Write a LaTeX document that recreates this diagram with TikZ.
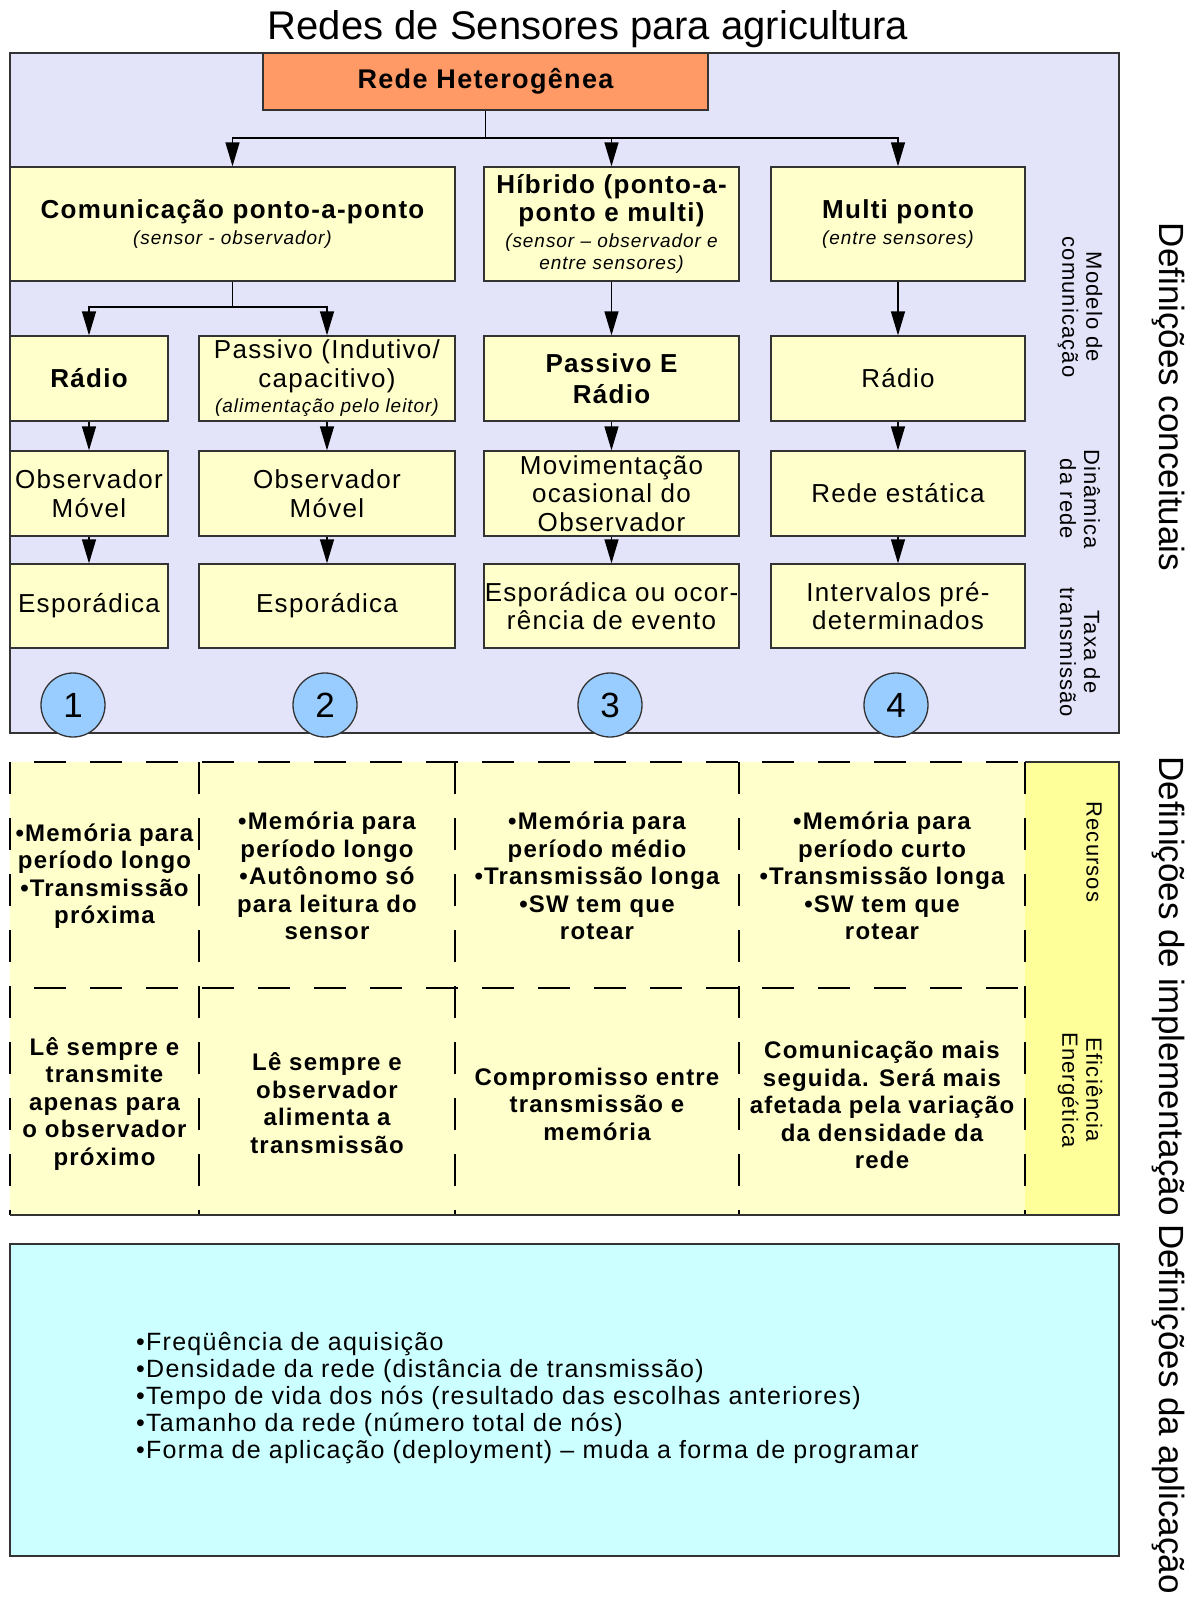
\documentclass[tikz,border=0pt]{standalone}
\usepackage{fontspec}
\setmainfont{Liberation Sans}[LetterSpace=5]
\newfontfamily\plainsans{Liberation Sans}
\usetikzlibrary{arrows.meta}
\definecolor{panel}{HTML}{E3E3FA}
\definecolor{boxy}{HTML}{FFFFCC}
\definecolor{orng}{HTML}{FF9966}
\definecolor{circb}{HTML}{99CCFF}
\definecolor{ycol}{HTML}{FFFF99}
\definecolor{cyanb}{HTML}{CCFFFF}
\definecolor{edge}{HTML}{333333}
\newcommand\fs[2]{\fontsize{#1}{#2}\selectfont}
\begin{document}
\begin{tikzpicture}[x=1pt,y=-1pt,
  box/.style={draw=edge, fill=boxy, line width=1.3pt, inner sep=0pt, align=center, font=\fs{26}{28.5}},
  bbox/.style={box, font=\bfseries\fs{26}{31}},
  ln/.style={draw=black, line width=1.3pt},
  arr/.style={ln, -{Triangle[length=24pt,width=14pt]}},
  circ/.style={circle, draw=edge, fill=circb, line width=1.3pt, minimum size=64pt, inner sep=0pt, font=\plainsans\fs{35}{37}},
  rot/.style={rotate=-90, align=center, font=\fs{22}{24}},
  big/.style={rotate=-90, inner sep=0pt, font=\plainsans\fs{35}{38}},
  mid/.style={align=center, font=\bfseries\fs{24}{27.5}},
  dsh/.style={line width=1.3pt, draw=black, dash pattern=on 32pt off 24pt},
  hdsh/.style={dsh, dash phase=32pt},
]
\useasboundingbox (0,0) rectangle (1193,1606);
\fill[white] (0,0) rectangle (1193,1606);

% title
\node (title) at (588,29) {\plainsans\fs{40}{44}Redes de Sensores para agricultura};

% top panel
\filldraw[fill=panel, draw=edge, line width=1.4pt] (10,53) rectangle (1119,733);

\node[bbox, fill=orng, minimum width=445pt, minimum height=57pt, font=\bfseries\fs{27}{30}] (rede) at (485.5,81.5) {Rede Heterogênea};

% row 1
\node[box, minimum width=445pt, minimum height=114pt] (com) at (232.5,224)
  {{\bfseries\fs{26}{30}\rule{0pt}{6pt}Comunicação ponto-a-ponto}\\[-2pt]{\itshape\fs{19}{22}(sensor - observador)}};
\node[box, minimum width=255pt, minimum height=114pt] (hib) at (611.5,224)
  {{\bfseries\fs{26}{31}Híbrido (ponto-a-}\\{\bfseries\fs{26}{31}ponto e multi)}\\[-3pt]{\itshape\fs{19}{22}(sensor – observador e}\\[-6pt]{\itshape\fs{19}{22}entre sensores)}};
\node[box, minimum width=254pt, minimum height=114pt] (mul) at (898,224)
  {{\bfseries\fs{26}{30}Multi ponto}\\[-2pt]{\itshape\fs{19}{22}(entre sensores)}};

% row 2
\node[bbox, minimum width=158pt, minimum height=85pt] (r1) at (89,378.5) {Rádio};
\node[box, minimum width=256pt, minimum height=85pt] (r2) at (327,378.5)
  {Passivo (Indutivo/\\capacitivo)\\[-3pt]{\itshape\fs{19}{22}(alimentação pelo leitor)}};
\node[bbox, minimum width=255pt, minimum height=85pt] (r3) at (611.5,378.5) {Passivo E\\Rádio};
\node[box, minimum width=254pt, minimum height=85pt] (r4) at (898,378.5) {Rádio};

% row 3
\node[box, minimum width=158pt, minimum height=85pt] (d1) at (89,493.5) {Observador\\Móvel};
\node[box, minimum width=256pt, minimum height=85pt] (d2) at (327,493.5) {Observador\\Móvel};
\node[box, minimum width=255pt, minimum height=85pt] (d3) at (611.5,493.5) {Movimentação\\ocasional do\\Observador};
\node[box, minimum width=254pt, minimum height=85pt] (d4) at (898,493.5) {Rede estática};

% row 4
\node[box, minimum width=158pt, minimum height=84pt] (t1) at (89,606) {Esporádica};
\node[box, minimum width=256pt, minimum height=84pt] (t2) at (327,606) {Esporádica};
\node[box, minimum width=255pt, minimum height=84pt] (t3) at (611.5,606) {Esporádica ou ocor-\\rência de evento};
\node[box, minimum width=254pt, minimum height=84pt] (t4) at (898,606) {Intervalos pré-\\determinados};

% connectors
\coordinate (j1) at (485.5,138);
\draw[ln] (rede.south) -- (j1);
\draw[arr] (j1) -| (com.north);
\draw[arr] (j1) -| (hib.north);
\draw[arr] (j1) -| (mul.north);
\coordinate (j2) at (232.5,307);
\draw[ln] (com.south) -- (j2);
\draw[arr] (j2) -| (r1.north);
\draw[arr] (j2) -| (r2.north);
\draw[arr] (hib.south) -- (r3.north);
\draw[arr] (mul.south) -- (r4.north);
\foreach \c in {1,2,3,4}{
  \draw[arr] (r\c.south) -- (d\c.north);
  \draw[arr] (d\c.south) -- (t\c.north);
}

% circles
\node[circ] (c1) at (73,705) {1};
\node[circ] (c2) at (325,705) {2};
\node[circ] (c3) at (610,705) {3};
\node[circ] (c4) at (896,705) {4};

% side labels (top)
\node[rot] (lmod) at (1080,307) {Modelo de\\comunicação};
\node[rot] (ldin) at (1080,499) {Dinâmica\\da rede};
\node[rot] (ltax) at (1080,652) {Taxa de\\transmissão};

% middle section
\fill[boxy] (10,762) rectangle (1025,1215);
\filldraw[fill=ycol, draw=edge, line width=1.4pt] (1025,762) -- (1119,762) -- (1119,1215) -- (1025,1215);
\draw[hdsh] (10,762) -- (1025,762);
\draw[hdsh] (10,988) -- (1025,988);
\foreach \x in {10,199,455,739,1025}{
  \draw[dsh] (\x,762) -- (\x,1215);
}
\draw[draw=edge, line width=1.6pt] (10,1215) -- (1119,1215);

\node[mid] (m11) at (104.5,876) {•Memória para\\período longo\\•Transmissão\\próxima};
\node[mid] (m12) at (327,876) {•Memória para\\período longo\\•Autônomo só\\para leitura do\\sensor};
\node[mid] (m13) at (597,876) {•Memória para\\período médio\\•Transmissão longa\\•SW tem que\\rotear};
\node[mid] (m14) at (882,876) {•Memória para\\período curto\\•Transmissão longa\\•SW tem que\\rotear};
\node[mid] (m21) at (104.5,1104) {Lê sempre e\\transmite\\apenas para\\o observador\\próximo};
\node[mid] (m22) at (327,1103) {Lê sempre e\\observador\\alimenta a\\transmissão};
\node[mid] (m23) at (597,1104) {Compromisso entre\\transmissão e\\memória};
\node[mid] (m24) at (882,1105) {Comunicação mais\\seguida. Será mais\\afetada pela variação\\da densidade da\\rede};

\node[rot] (lrec) at (1094,852) {Recursos};
\node[rot] (lefi) at (1080,1090) {Eficiência\\Energética};

% bottom section
\filldraw[fill=cyanb, draw=edge, line width=1.4pt] (10,1244) rectangle (1119,1556);
\node[anchor=west, align=left, inner sep=0pt, font=\fs{25}{27.2}] (app) at (136,1398)
  {•Freqüência de aquisição\\•Densidade da rede (distância de transmissão)\\•Tempo de vida dos nós (resultado das escolhas anteriores)\\•Tamanho da rede (número total de nós)\\•Forma de aplicação (deployment) – muda a forma de programar};

% big side labels
\node[big] (bconc) at (1168,397) {Definições conceituais};
\node[big] (bimpl) at (1168,986) {Definições de implementação};
\node[big, anchor=west] (bapl) at (1168,1224) {Definições da aplicação};
\end{tikzpicture}
\end{document}
